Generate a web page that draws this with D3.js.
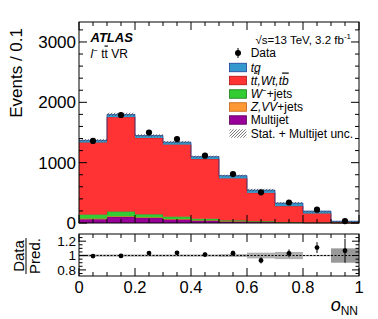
<!DOCTYPE html>
<html><head><meta charset="utf-8">
<script src="https://cdn.jsdelivr.net/npm/d3@7"></script>
<style>body{margin:0;background:#fff}svg{display:block;font-family:"Liberation Sans",Arial,sans-serif}</style>
</head><body><svg id="c" width="378" height="319"></svg>
<script>
const binEdges = [0,0.1,0.2,0.3,0.4,0.5,0.6,0.7,0.8,0.9,1.0];
const multijet = [62,100,85,58,38,24,16,8,4,1.5];
const zvv      = [12,12,10,8,6,5,3,2,1,0.5];
const wjets    = [66,78,50,39,26,16,11,5,3,1];
const ttbar    = [1195,1565,1265,1195,990,695,470,265,150,12];
const tq       = [35,45,40,40,40,45,45,50,40,15];
const data     = [1360,1790,1500,1390,1115,810,508,340,220,32];
const dataErr  = [37,42,39,37,33,28,23,18,15,5];
const relUnc   = [0.015,0.015,0.015,0.015,0.015,0.02,0.04,0.05,0.01,0.1];
const yTicks = [0,1000,2000,3000];
const xTicks = [0,0.2,0.4,0.6,0.8,1];
const rTicks = [0.8,1,1.2];

const series = [
  {name:"Multijet", v:multijet, fill:"#990099", stroke:"#5a005a"},
  {name:"Z,VV+jets", v:zvv, fill:"#ff9933", stroke:"#c06010"},
  {name:"W+jets", v:wjets, fill:"#33cc33", stroke:"#1a7a1a"},
  {name:"tt,Wt,tb", v:ttbar, fill:"#ff3333", stroke:"#b01010"},
  {name:"tq", v:tq, fill:"#3399cc", stroke:"#1c3f9a"}
];

const svg = d3.select("#c");
const L=79, R=359, T=22, B=223, RT=234, RB=276;
const x = d3.scaleLinear().domain([0,1]).range([L,R]);
const y = d3.scaleLinear().domain([0,3331]).range([B,T]);
const yr = d3.scaleLinear().domain([0.715,1.3]).range([RB,RT]);

const n = data.length;
const totals = d3.range(n).map(i=>series.reduce((s,se)=>s+se.v[i],0));

const defs = svg.append("defs");
const pat = defs.append("pattern").attr("id","hatch").attr("patternUnits","userSpaceOnUse")
  .attr("width",3).attr("height",3);
pat.append("path").attr("d","M0,3 L3,0 M-1,1 L1,-1 M2,4 L4,2").attr("stroke","#444").attr("stroke-width",0.7);

const base = new Array(n).fill(0);
series.forEach(se=>{
  const g = svg.append("g");
  for(let i=0;i<n;i++){
    const y0=base[i], y1=base[i]+se.v[i];
    g.append("rect").attr("x",x(binEdges[i])).attr("width",x(binEdges[i+1])-x(binEdges[i]))
      .attr("y",y(y1)).attr("height",y(y0)-y(y1)).attr("fill",se.fill);
    base[i]=y1;
  }
  let d="";
  for(let i=0;i<n;i++){
    d += (i===0?"M":"L")+x(binEdges[i])+","+y(base[i])+"L"+x(binEdges[i+1])+","+y(base[i]);
  }
  g.append("path").attr("d",d).attr("fill","none").attr("stroke",se.stroke).attr("stroke-width",0.7);
});

for(let i=0;i<n;i++){
  const u = totals[i]*relUnc[i];
  svg.append("rect").attr("x",x(binEdges[i])).attr("width",x(binEdges[i+1])-x(binEdges[i]))
    .attr("y",y(totals[i]+u)).attr("height",Math.max(1.8,y(totals[i]-u)-y(totals[i]+u))).attr("fill","url(#hatch)");
}

const mid = i=>(binEdges[i]+binEdges[i+1])/2;
for(let i=0;i<n;i++){
  svg.append("line").attr("x1",x(mid(i))).attr("x2",x(mid(i)))
    .attr("y1",y(data[i]-dataErr[i])).attr("y2",y(data[i]+dataErr[i])).attr("stroke","#000").attr("stroke-width",1);
  svg.append("circle").attr("cx",x(mid(i))).attr("cy",y(data[i])).attr("r",3.1).attr("fill","#000");
}

svg.append("rect").attr("x",L).attr("y",T).attr("width",R-L).attr("height",B-T).attr("fill","none").attr("stroke","#000").attr("stroke-width",1);

for(let i=0;i<n;i++){
  svg.append("rect").attr("x",x(binEdges[i])).attr("width",x(binEdges[i+1])-x(binEdges[i]))
    .attr("y",yr(1+relUnc[i])).attr("height",yr(1-relUnc[i])-yr(1+relUnc[i]))
    .attr("fill",relUnc[i]>=0.08?"#999":"#b0b0b0");
}
svg.append("line").attr("x1",L).attr("x2",R).attr("y1",yr(1)).attr("y2",yr(1))
  .attr("stroke","#000").attr("stroke-width",1).attr("stroke-dasharray","2,1.5");
for(let i=0;i<n;i++){
  const r = data[i]/totals[i], re = dataErr[i]/totals[i];
  svg.append("line").attr("x1",x(mid(i))).attr("x2",x(mid(i)))
    .attr("y1",yr(r-re)).attr("y2",yr(r+re)).attr("stroke","#000").attr("stroke-width",1);
  svg.append("circle").attr("cx",x(mid(i))).attr("cy",yr(r)).attr("r",2.4).attr("fill","#000");
}
svg.append("rect").attr("x",L).attr("y",RT).attr("width",R-L).attr("height",RB-RT).attr("fill","none").attr("stroke","#000").attr("stroke-width",1);

function ticksH(scale, vals, y0, dir, len){
  vals.forEach(v=>svg.append("line").attr("x1",scale(v)).attr("x2",scale(v)).attr("y1",y0).attr("y2",y0+dir*len).attr("stroke","#000").attr("stroke-width",1));
}
function ticksV(scale, vals, x0, dir, len){
  vals.forEach(v=>svg.append("line").attr("y1",scale(v)).attr("y2",scale(v)).attr("x1",x0).attr("x2",x0+dir*len).attr("stroke","#000").attr("stroke-width",1));
}
const xMinor = d3.range(0,1.0001,0.05).filter(v=>Math.abs(v*5-Math.round(v*5))>1e-6);
[[B,-1],[T,1],[RB,-1],[RT,1]].forEach(([yy,dir])=>{ticksH(x,xTicks,yy,dir,8);ticksH(x,xMinor,yy,dir,4);});
const yMinor = d3.range(0,3331,200).filter(v=>v%1000!==0);
[[L,1],[R,-1]].forEach(([xx,dir])=>{ticksV(y,yTicks,xx,dir,8);ticksV(y,yMinor,xx,dir,4);});
const rMinor=[0.75,0.85,0.9,0.95,1.05,1.1,1.15,1.25];
[[L,1],[R,-1]].forEach(([xx,dir])=>{ticksV(yr,rTicks,xx,dir,7);ticksV(yr,rMinor,xx,dir,3.5);});

yTicks.forEach(v=>svg.append("text").attr("x",L-3).attr("y",y(v)+6).attr("text-anchor","end").attr("font-size",17).text(v));
rTicks.forEach(v=>svg.append("text").attr("x",L-3).attr("y",yr(v)+4.8).attr("text-anchor","end").attr("font-size",13.5).text(v));
xTicks.forEach(v=>svg.append("text").attr("x",x(v)).attr("y",293).attr("text-anchor","middle").attr("font-size",16.5).text(v));

svg.append("text").attr("transform","translate(22,28) rotate(-90)").attr("text-anchor","end").attr("font-size",17).text("Events / 0.1");
svg.append("text").attr("transform","translate(23.5,256) rotate(-90)").attr("text-anchor","middle").attr("font-size",15).text("Data");
svg.append("line").attr("x1",26).attr("x2",26).attr("y1",238).attr("y2",274).attr("stroke","#000").attr("stroke-width",1);
svg.append("text").attr("transform","translate(39.5,256) rotate(-90)").attr("text-anchor","middle").attr("font-size",15).text("Pred.");
const xt = svg.append("text").attr("x",358).attr("y",311).attr("text-anchor","end").attr("font-size",18);
xt.append("tspan").attr("font-style","italic").text("o");
xt.append("tspan").attr("font-size",12).attr("dy",4).text("NN");

svg.append("text").attr("x",90.5).attr("y",41.5).attr("font-size",13).attr("font-weight","bold").attr("font-style","italic").text("ATLAS");
const lab = svg.append("text").attr("x",90.5).attr("y",57.5).attr("font-size",12);
lab.append("tspan").attr("font-style","italic").text("l");
lab.append("tspan").attr("font-size",8).attr("dy",-5).text("−");
lab.append("tspan").attr("dy",5).text(" t");
lab.append("tspan").style("text-decoration","overline").text("t");
lab.append("tspan").text(" VR");
const en = svg.append("text").attr("x",351).attr("y",44).attr("text-anchor","end").attr("font-size",11.5);
en.append("tspan").text("√s=13 TeV, 3.2 fb");
en.append("tspan").attr("font-size",8).attr("dy",-5).text("-1");

const lx=229.5, lw=17, lh=8.5, tx=250.7, fs=12;
const colorOf = nm=>series.find(s=>s.name===nm);
function box(yc, se){
  svg.append("rect").attr("x",lx).attr("y",yc-lh/2).attr("width",lw).attr("height",lh).attr("fill",se.fill).attr("stroke",se.stroke).attr("stroke-width",0.8);
}
svg.append("line").attr("x1",lx+lw/2).attr("x2",lx+lw/2).attr("y1",53-5).attr("y2",53+5).attr("stroke","#000");
svg.append("circle").attr("cx",lx+lw/2).attr("cy",53).attr("r",3).attr("fill","#000");
svg.append("text").attr("x",tx).attr("y",57).attr("font-size",fs).text("Data");
box(67.5, colorOf("tq"));
svg.append("text").attr("x",tx).attr("y",71.5).attr("font-size",fs).attr("font-style","italic").text("tq");
box(80.5, colorOf("tt,Wt,tb"));
const t2 = svg.append("text").attr("x",tx).attr("y",84.5).attr("font-size",fs).attr("font-style","italic");
t2.append("tspan").text("t");
t2.append("tspan").style("text-decoration","overline").text("t");
t2.append("tspan").text(",Wt,t");
t2.append("tspan").style("text-decoration","overline").text("b");
box(94, colorOf("W+jets"));
const t3 = svg.append("text").attr("x",tx).attr("y",98).attr("font-size",fs);
t3.append("tspan").attr("font-style","italic").text("W");
t3.append("tspan").attr("font-size",8).attr("dy",-5).text("−");
t3.append("tspan").attr("dy",5).text("+jets");
box(107, colorOf("Z,VV+jets"));
const t4 = svg.append("text").attr("x",tx).attr("y",111).attr("font-size",fs);
t4.append("tspan").attr("font-style","italic").text("Z,VV");
t4.append("tspan").text("+jets");
box(120, colorOf("Multijet"));
svg.append("text").attr("x",tx).attr("y",124).attr("font-size",fs).text("Multijet");
svg.append("rect").attr("x",lx).attr("y",133.5-lh/2).attr("width",lw).attr("height",lh).attr("fill","url(#hatch)");
svg.append("text").attr("x",tx).attr("y",137.5).attr("font-size",fs).text("Stat. + Multijet unc.");
</script></body></html>
